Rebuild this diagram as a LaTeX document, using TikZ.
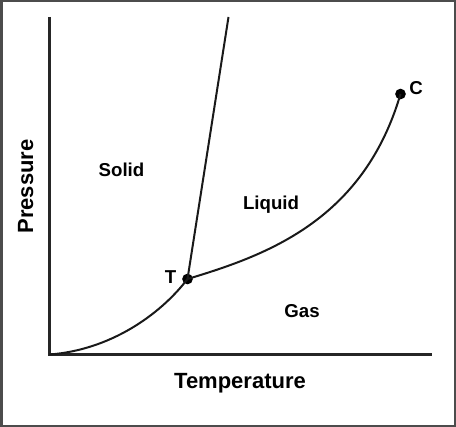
\documentclass[tikz,border=0pt]{standalone}
\usepackage{fontspec}
\setmainfont{Liberation Sans}
\begin{document}
\begin{tikzpicture}[x=0.75pt,y=-0.75pt,
  lbl/.style={inner sep=0pt,anchor=base,font=\bfseries\fontsize{14}{16}\selectfont},
  axlbl/.style={inner sep=0pt,anchor=base,font=\bfseries\fontsize{16.5}{19}\selectfont},
  curve/.style={line width=1.5pt,black!90},
  axis/.style={line width=1.6pt,black!85},
  dot/.style={circle,fill=black,inner sep=0pt,minimum size=8pt}]
\useasboundingbox (0,0) rectangle (456,427);
\draw[line width=1.5pt,black!70] (1.5,1.5) rectangle (454.5,425.5);
% axes
\coordinate (top) at (49.5,17);
\coordinate (O) at (49.5,354.5);
\coordinate (right) at (431.5,354.5);
\draw[axis] (top) -- (O) -- (right);
% points
\node[dot] (T) at (187.5,279) {};
\node[dot] (C) at (400.5,94) {};
\coordinate (melt) at (228.5,17);
% curves
\draw[curve] (O) .. controls (110,350) and (160,315) .. (T.center);
\draw[curve] (T.center) .. controls (267.5,255) and (363.5,220) .. (C.center);
\draw[curve] (T.center) -- (melt);
% labels
\node[lbl] (lsolid) at (121.5,177) {Solid};
\node[lbl] (lliquid) at (271,210) {Liquid};
\node[lbl] (lgas) at (302,317) {Gas};
\node[lbl] (lT) at (170.5,283) {T};
\node[lbl] (lC) at (416,95) {C};
\node[axlbl] (ltemp) at (240,388.5) {Temperature};
\node[axlbl,rotate=90] (lpress) at (33,186.5) {Pressure};
\end{tikzpicture}
\end{document}
